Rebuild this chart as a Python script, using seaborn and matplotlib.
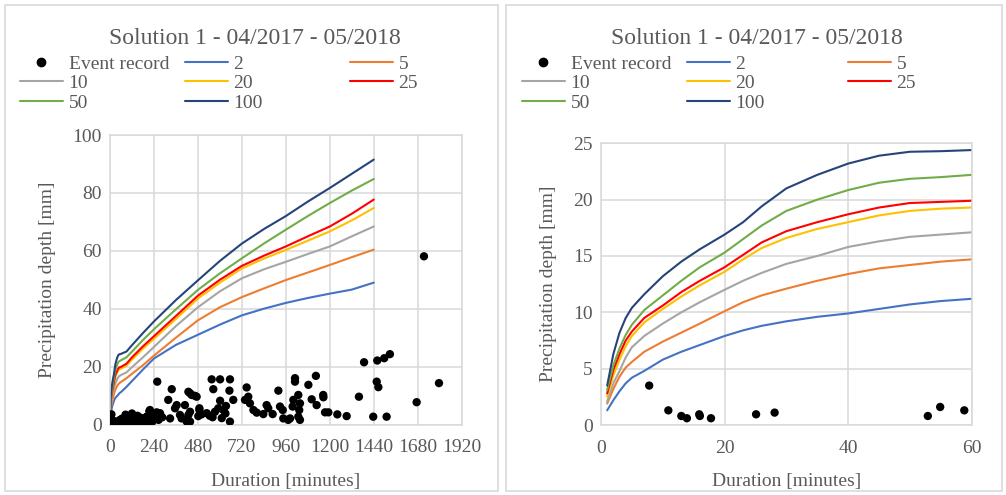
import matplotlib
matplotlib.use("Agg")
import matplotlib.pyplot as plt
from matplotlib import font_manager as fm
import pandas as pd
import seaborn as sns
from matplotlib.lines import Line2D
from matplotlib.patches import Rectangle

# ---------------- data ----------------
title = "Solution 1 - 04/2017 - 05/2018"

duration_min = [1, 2, 3, 4, 5, 7, 10, 13, 16, 20, 23, 26, 30, 35, 40, 45, 50, 55, 60,
                90, 120, 180, 240, 360, 480, 600, 720, 840, 960, 1080, 1200, 1320, 1440]

depth_2 = [1.3, 2.2, 3.0, 3.7, 4.2, 4.8, 5.8, 6.5, 7.1, 7.9, 8.4, 8.8, 9.2, 9.6, 9.9, 10.3, 10.7, 11.0, 11.2,
           13.0, 15.0, 19.0, 22.8, 27.5, 31.0, 34.5, 37.7, 40.0, 42.0, 43.7, 45.2, 46.6, 49.0]
depth_5 = [1.9, 3.2, 4.3, 5.1, 5.6, 6.5, 7.4, 8.2, 9.0, 10.1, 10.9, 11.5, 12.1, 12.8, 13.4, 13.9, 14.2, 14.5, 14.7,
           16.0, 17.5, 20.5, 23.8, 30.0, 36.0, 40.5, 44.0, 47.0, 49.9, 52.5, 55.1, 57.8, 60.4]
depth_10 = [2.1, 3.7, 4.8, 6.0, 6.9, 7.9, 9.0, 10.0, 10.9, 12.0, 12.8, 13.5, 14.3, 15.0, 15.8, 16.3, 16.7, 16.9, 17.1,
            18.0, 19.8, 23.2, 26.8, 34.0, 40.5, 46.0, 50.5, 53.6, 56.2, 58.9, 61.5, 65.0, 68.4]
depth_20 = [2.5, 4.4, 5.8, 7.0, 7.9, 9.1, 10.3, 11.4, 12.4, 13.6, 14.7, 15.7, 16.6, 17.4, 18.0, 18.6, 19.0, 19.2, 19.3,
            20.3, 22.4, 26.2, 29.6, 36.5, 43.5, 49.0, 53.9, 57.3, 60.3, 63.5, 66.7, 70.5, 74.8]
depth_25 = [2.8, 4.9, 6.3, 7.5, 8.3, 9.5, 10.6, 11.8, 12.8, 14.0, 15.1, 16.2, 17.2, 18.0, 18.7, 19.3, 19.7, 19.8, 19.9,
            21.0, 23.2, 27.0, 30.5, 37.5, 44.5, 50.0, 54.8, 58.3, 61.5, 65.0, 68.4, 72.8, 77.7]
depth_50 = [3.1, 5.3, 6.8, 8.0, 8.9, 10.2, 11.5, 12.8, 14.0, 15.3, 16.5, 17.7, 19.0, 20.0, 20.85, 21.5, 21.85, 22.0, 22.2,
            23.2, 25.2, 29.2, 32.9, 39.8, 46.5, 52.2, 57.4, 62.5, 67.3, 72.0, 76.5, 80.8, 84.8]
depth_100 = [3.5, 6.3, 8.2, 9.5, 10.4, 11.6, 13.2, 14.5, 15.6, 16.9, 18.0, 19.4, 21.0, 22.2, 23.2, 23.9, 24.25, 24.3, 24.4,
             25.2, 27.4, 31.6, 35.6, 43.0, 49.8, 56.5, 62.5, 67.5, 72.0, 77.0, 81.7, 86.6, 91.5]

return_periods = ["2", "5", "10", "20", "25", "50", "100"]
depths = [depth_2, depth_5, depth_10, depth_20, depth_25, depth_50, depth_100]
line_colors = ["#4472C4", "#ED7D31", "#A5A5A5", "#FFC000", "#FF0000", "#70AD47", "#264478"]

event_min = [7.8, 10.9, 13.0, 13.9, 15.9, 16.0, 17.8, 25.1, 28.1, 52.9, 54.9, 58.8,
             62, 68, 65, 75, 85, 90, 95, 100, 110, 115, 120, 125, 130, 140, 150, 155, 160, 165, 175,
             185, 195, 200, 200, 205, 215, 218, 225, 230, 235, 237, 245, 255, 258, 258, 265, 270, 273, 285,
             318, 328, 337, 355, 364, 382, 391, 409, 419, 428, 428, 437, 437, 437, 446, 464, 473, 482,
             488, 488, 500, 528, 545, 555, 560, 564, 573, 591, 601, 601, 610, 619, 630, 633, 652, 655, 655, 673,
             737, 746, 755, 764, 783, 801, 837, 855, 864, 888, 919, 928, 943, 946, 973, 983, 997, 1001,
             1010, 1010, 1028, 1028, 1033, 1037, 1037, 1083, 1101, 1124, 1128, 1164, 1165, 1174, 1192,
             1241, 1292, 1359, 1387, 1437, 1456, 1459, 1465, 1497, 1510, 1528, 1674, 1714, 1796]
event_mm = [3.5, 1.3, 0.8, 0.6, 0.95, 0.8, 0.6, 0.95, 1.1, 0.8, 1.6, 1.3,
            0.7, 1.5, 2.0, 1.2, 3.4, 1.8, 0.8, 2.5, 1.5, 0.4, 3.8, 0.9, 2.2, 1.8, 3.0, 0.6, 1.4, 2.4, 1.1,
            1.9, 0.5, 1.7, 2.7, 2.8, 4.6, 5.0, 1.3, 0.9, 3.5, 3.9, 2.0, 4.2, 14.8, 2.1, 1.6, 3.1, 3.9, 2.5,
            8.5, 2.1, 12.2, 5.6, 6.7, 3.3, 2.1, 6.7, 1.0, 11.3, 3.3, 10.8, 4.4, 1.0, 10.2, 9.9, 9.6, 2.9,
            5.6, 5.0, 3.5, 3.9, 3.0, 15.6, 2.5, 12.2, 4.4, 5.6, 15.6, 8.2, 2.2, 5.0, 3.8, 6.4, 11.7, 15.6, 1.0, 8.5,
            8.5, 12.8, 9.6, 7.3, 5.0, 4.1, 3.6, 6.7, 5.6, 3.6, 11.7, 6.2, 5.0, 2.1, 1.6, 2.1, 6.2, 8.5,
            16.0, 14.8, 10.2, 2.7, 5.0, 7.3, 1.6, 13.7, 8.7, 16.8, 6.7, 10.2, 9.4, 4.2, 4.2,
            3.5, 2.9, 9.6, 21.5, 2.7, 14.8, 22.1, 12.9, 22.9, 2.7, 24.3, 7.7, 58.1, 14.3]

left_xticks = [0, 240, 480, 720, 960, 1200, 1440, 1680, 1920]
left_yticks = [0, 20, 40, 60, 80, 100]
right_xticks = [0, 20, 40, 60]
right_yticks = [0, 5, 10, 15, 20, 25]

x_label = "Duration [minutes]"
y_label = "Precipitation depth [mm]"
event_label = "Event record"

# ---------------- styling ----------------
sns.set_theme(style="white")

# register the Times-metric serif face explicitly so it is picked up by name
serif_name = "Liberation Serif"
for f in fm.findSystemFonts():
    if "LiberationSerif-Regular" in f:
        fm.fontManager.addfont(f)
        serif_name = fm.FontProperties(fname=f).get_name()
        break
plt.rcParams["font.family"] = [serif_name, "DejaVu Serif"]

TEXT = "#595959"
GRID = "#d9d9d9"
FS = 14

curves = pd.DataFrame(
    [(d, v, rp) for rp, vals in zip(return_periods, depths) for d, v in zip(duration_min, vals)],
    columns=["duration", "depth", "return_period"],
)
events = pd.DataFrame({"duration": event_min, "depth": event_mm})
palette = dict(zip(return_periods, line_colors))

W, H = 1006, 495
fig = plt.figure(figsize=(W / 100, H / 100), dpi=100)
fig.patch.set_facecolor("white")


def px_rect(x0, y0, x1, y1):
    """Figure-fraction rectangle from pixel corners (top-left origin)."""
    return [x0 / W, 1 - y1 / H, (x1 - x0) / W, (y1 - y0) / H]


panels = [
    dict(frame=(5, 5, 498, 491), axes=(110, 135, 461.7, 424.5), xlim=(0, 1920), ylim=(0, 100),
         xticks=left_xticks, yticks=left_yticks, title_x=255,
         leg_x=[20, 185, 350], ylab=-0.153, xlab=-0.166),
    dict(frame=(506, 5, 1002, 491), axes=(601, 143.3, 971.7, 425), xlim=(0, 60), ylim=(0, 25),
         xticks=right_xticks, yticks=right_yticks, title_x=757,
         leg_x=[522, 687, 848], ylab=-0.118, xlab=-0.170),
]

for p in panels:
    fx0, fy0, fx1, fy1 = p["frame"]
    fig.patches.append(Rectangle((fx0 / W, 1 - fy1 / H), (fx1 - fx0) / W, (fy1 - fy0) / H,
                                 transform=fig.transFigure, fill=False, edgecolor=GRID, lw=1.2))
    ax = fig.add_axes(px_rect(*p["axes"]))
    sns.lineplot(data=curves, x="duration", y="depth", hue="return_period", palette=palette,
                 hue_order=return_periods, estimator=None, sort=False, lw=1.5, legend=False, ax=ax)
    sns.scatterplot(data=events, x="duration", y="depth", color="black", s=36, edgecolor="none",
                    legend=False, ax=ax, zorder=5)
    ax.set_xlim(*p["xlim"])
    ax.set_ylim(*p["ylim"])
    ax.set_xticks(p["xticks"])
    ax.set_yticks(p["yticks"])
    ax.grid(True, color=GRID, lw=1.1)
    ax.set_axisbelow(True)
    for s in ax.spines.values():
        s.set_color(GRID)
        s.set_linewidth(1.1)
    ax.tick_params(length=0, labelsize=FS, labelcolor=TEXT)
    ax.tick_params(axis="x", pad=10.5)
    ax.tick_params(axis="y", pad=6)
    ax.set_xlabel(x_label, fontsize=FS, color=TEXT)
    ax.set_ylabel(y_label, fontsize=FS, color=TEXT)
    ax.yaxis.set_label_coords(p["ylab"], 0.5)
    ax.xaxis.set_label_coords(0.5, p["xlab"])

    fig.text(p["title_x"] / W, 1 - 38 / H, title, ha="center", va="center", fontsize=17, color=TEXT)

    dot = Line2D([], [], ls="none", marker="o", color="black", markersize=6)
    line_handles = [Line2D([], [], color=c, lw=1.5) for c in line_colors]
    columns = [
        ([dot, line_handles[2], line_handles[5]], [event_label, "10", "50"]),
        ([line_handles[0], line_handles[3], line_handles[6]], ["2", "20", "100"]),
        ([line_handles[1], line_handles[4]], ["5", "25"]),
    ]
    for lx, (hs, ls) in zip(p["leg_x"], columns):
        fig.legend(hs, ls, loc="upper left", bbox_to_anchor=(lx / W, 1 - 55 / H),
                   frameon=False, fontsize=FS, handlelength=2.2, handletextpad=0.3,
                   borderpad=0, borderaxespad=0, labelspacing=0.1, labelcolor=TEXT)

fig.savefig("out.png", dpi=100, facecolor="white")
